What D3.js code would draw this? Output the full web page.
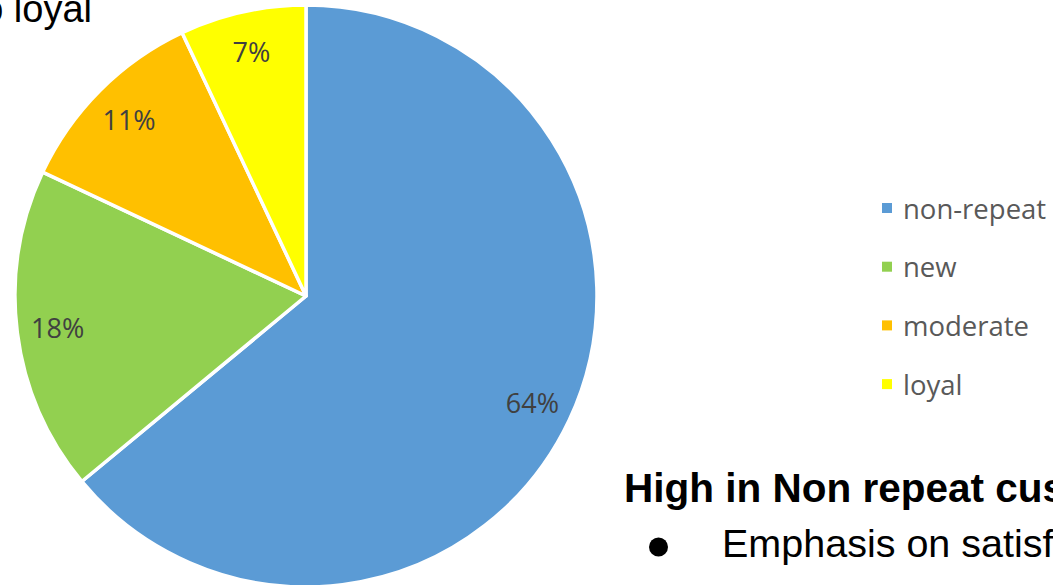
<!DOCTYPE html>
<html>
<head>
<meta charset="utf-8">
<script src="https://cdn.jsdelivr.net/npm/d3@7"></script>
<style>
  html, body { margin: 0; padding: 0; background: #fff; }
  svg { display: block; }
</style>
</head>
<body>
<svg id="chart" width="1053" height="585"></svg>
<script>
// Customer segments and their share of customers (%)
const categories = ["non-repeat", "new", "moderate", "loyal"];
const shares = [64, 18, 11, 7];
const sliceColors = ["#5B9BD5", "#92D050", "#FFC000", "#FFFF00"];

const svg = d3.select("#chart");

const cx = 306, cy = 296, radius = 291;

const data = categories.map((c, i) => ({ name: c, value: shares[i] }));

const color = d3.scaleOrdinal().domain(categories).range(sliceColors);

const pie = d3.pie().value(d => d.value).sort(null);
const arcs = pie(data);

const arc = d3.arc().innerRadius(0).outerRadius(radius);
const labelArc = d3.arc().innerRadius(radius * 0.86).outerRadius(radius * 0.86);

const g = svg.append("g").attr("transform", `translate(${cx},${cy})`);

g.selectAll("path.slice")
  .data(arcs)
  .join("path")
  .attr("class", "slice")
  .attr("d", arc)
  .attr("fill", d => color(d.data.name))
  .attr("stroke", "#fff")
  .attr("stroke-width", 3.5)
  .attr("stroke-linejoin", "round");

g.selectAll("text.pct")
  .data(arcs)
  .join("text")
  .attr("class", "pct")
  .attr("transform", d => `translate(${labelArc.centroid(d)})`)
  .attr("text-anchor", "middle")
  .attr("dominant-baseline", "central")
  .attr("font-family", "'Open Sans', sans-serif")
  .attr("font-size", 27)
  .attr("fill", "#404040")
  .text(d => d.data.value + "%");

// Legend
const legend = svg.append("g").attr("transform", "translate(882,208)");
const rowStep = 58.7;
const rows = legend.selectAll("g.row")
  .data(categories)
  .join("g")
  .attr("class", "row")
  .attr("transform", (d, i) => `translate(0,${i * rowStep})`);

rows.append("rect")
  .attr("x", 0).attr("y", -5)
  .attr("width", 10).attr("height", 10)
  .attr("fill", d => color(d));

rows.append("text")
  .attr("x", 21)
  .attr("y", 0)
  .attr("dominant-baseline", "central")
  .attr("font-family", "'Open Sans', sans-serif")
  .attr("font-size", 27.5)
  .attr("fill", "#595959")
  .text(d => d);

// Surrounding slide text
svg.append("text")
  .attr("x", 92).attr("y", 22)
  .attr("text-anchor", "end")
  .attr("font-family", "'Liberation Sans', Arial, sans-serif")
  .attr("font-size", 38)
  .attr("fill", "#000")
  .text("o loyal");

svg.append("text")
  .attr("x", 624).attr("y", 502)
  .attr("font-family", "'Liberation Sans', Arial, sans-serif")
  .attr("font-weight", "bold")
  .attr("font-size", 40.5)
  .attr("fill", "#000")
  .text("High in Non repeat cus");

svg.append("circle")
  .attr("cx", 658.5).attr("cy", 547)
  .attr("r", 9.5)
  .attr("fill", "#000");

svg.append("text")
  .attr("x", 722).attr("y", 557)
  .attr("font-family", "'Liberation Sans', Arial, sans-serif")
  .attr("font-size", 39.5)
  .attr("fill", "#000")
  .text("Emphasis on satisf");
</script>
</body>
</html>
